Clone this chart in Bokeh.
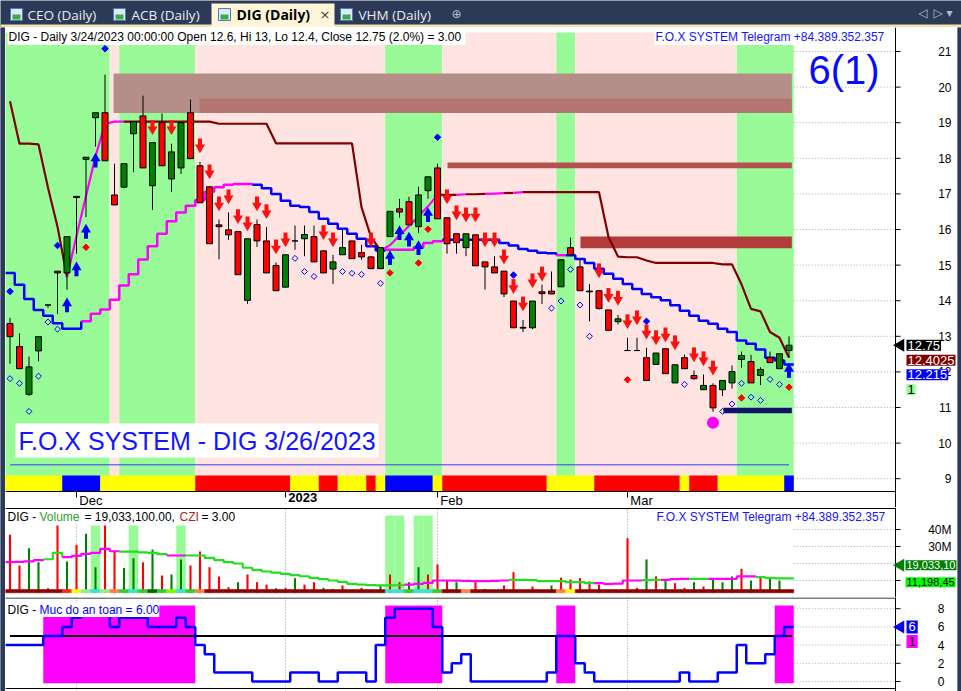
from bokeh.plotting import figure
from bokeh.models import Range1d, FixedTicker, Label, Grid
from bokeh.layouts import column, row
from bokeh.embed import file_html
from bokeh.resources import INLINE
from bokeh.core.properties import value

FONT = "Liberation Sans"

# ---------------------------------------------------------------- data
month_ticks = [7, 29, 45, 65]
month_labels = ["Dec", "2023", "Feb", "Mar"]
price_ticks = list(range(9, 22))

opens = [13.36, 12.71, 11.37, 12.59, 13.88, 14.83, 14.78, 16.93, 17.97, 19.14,
         19.28, 16.97, 17.19, 18.69, 19.19, 17.23, 19.00, 17.42, 17.73, 19.28,
         17.79, 17.20, 16.13, 15.99, 15.94, 14.01, 16.14, 15.68, 14.99, 14.38,
         15.68, 15.74, 15.80, 15.40, 14.89, 15.29, 15.68, 15.35, 15.23, 14.90,
         15.80, 16.58, 16.78, 16.08, 17.09, 17.73, 16.33, 15.88, 15.49, 15.85,
         15.09, 14.95, 14.83, 13.99, 13.25, 13.24, 14.25, 14.27, 14.39, 15.49,
         14.95, 14.27, 14.28, 13.74, 13.41, 12.60, 12.60, 12.40, 12.21, 12.65,
         11.69, 12.40, 11.90, 11.50, 11.62, 11.50, 11.69, 12.35, 12.29, 11.90,
         12.40, 12.09, 12.60]
highs = [13.52, 13.08, 12.43, 12.99, 13.88, 14.83, 15.80, 16.93, 18.03, 19.28,
         20.35, 17.85, 17.85, 19.03, 19.76, 18.44, 19.26, 18.41, 19.00, 19.65,
         17.90, 17.20, 16.28, 16.48, 15.94, 15.74, 16.28, 16.07, 15.07, 15.29,
         16.11, 16.11, 16.11, 15.40, 15.29, 15.99, 15.68, 15.57, 15.25, 15.49,
         16.51, 16.86, 16.92, 17.20, 17.48, 17.85, 16.33, 15.88, 15.88, 15.85,
         15.09, 15.25, 14.83, 13.99, 13.46, 13.99, 14.45, 14.82, 15.15, 15.77,
         15.15, 14.47, 14.28, 13.74, 13.60, 12.96, 12.96, 12.68, 12.53, 12.65,
         12.20, 12.49, 12.04, 11.93, 11.68, 11.76, 12.18, 12.57, 12.48, 12.13,
         12.57, 12.51, 13.00]
lows = [12.23, 12.09, 11.32, 12.30, 13.80, 13.63, 14.31, 15.32, 16.35, 18.33,
        17.93, 16.69, 17.16, 17.61, 17.73, 16.55, 17.79, 17.05, 17.56, 17.99,
        16.75, 15.60, 15.16, 15.71, 14.73, 13.91, 15.51, 14.78, 14.28, 14.38,
        15.43, 15.25, 15.09, 14.78, 14.47, 15.29, 15.18, 15.15, 14.90, 14.90,
        15.80, 16.33, 16.13, 15.91, 16.86, 16.30, 15.32, 15.32, 15.25, 14.98,
        14.31, 14.78, 14.10, 13.24, 13.12, 13.20, 13.91, 14.19, 14.39, 15.29,
        14.28, 13.42, 13.75, 13.17, 13.33, 12.60, 12.60, 11.76, 12.21, 11.95,
        11.69, 12.09, 11.78, 11.50, 10.88, 11.32, 11.53, 12.12, 11.69, 11.63,
        12.26, 12.09, 12.40]
closes = [12.99, 12.09, 12.14, 12.99, 13.88, 14.78, 15.80, 16.90, 18.03, 19.28,
          17.93, 16.69, 17.85, 19.03, 17.73, 18.44, 17.79, 18.18, 19.00, 17.99,
          16.75, 15.60, 16.08, 15.85, 14.73, 15.74, 15.68, 14.78, 14.28, 15.29,
          15.68, 15.86, 15.09, 14.78, 15.09, 15.49, 15.18, 15.23, 14.90, 15.49,
          16.51, 16.49, 16.13, 16.97, 17.48, 16.30, 15.60, 15.63, 15.88, 14.98,
          14.95, 14.78, 14.19, 13.24, 13.23, 13.99, 14.20, 14.19, 15.15, 15.29,
          14.28, 14.25, 13.78, 13.17, 13.49, 12.60, 12.60, 11.76, 12.53, 11.95,
          12.20, 12.09, 11.81, 11.62, 10.99, 11.76, 12.01, 12.46, 11.69, 12.07,
          12.26, 12.51, 12.75]

# trailing stop line (dark red / magenta), drawn as a polyline
stop_line = [19.60, 18.41, 18.41, 18.39, 17.17, 16.08, 14.66, 15.82, 16.94, 18.05,
             18.97, 19.03, 19.03, 19.03, 19.03, 19.03, 19.03, 19.03, 19.03, 19.03,
             19.03, 19.03, 18.97, 18.97, 18.97, 18.97, 18.97, 18.97, 18.42, 18.42,
             18.42, 18.42, 18.42, 18.42, 18.42, 18.42, 18.42, 16.63, 15.79, 15.41,
             15.56, 15.83, 16.10, 16.37, 16.65, 16.97, 16.97, 16.97, 16.99, 16.99,
             17.00, 17.01, 17.02, 17.03, 17.05, 17.05, 17.05, 17.05, 17.05, 17.05,
             17.05, 17.05, 17.05, 15.79, 15.24, 15.22, 15.22, 15.13, 15.06, 15.06,
             15.06, 15.06, 15.06, 15.06, 15.06, 15.02, 15.02, 14.46, 13.77, 13.70,
             13.12, 12.96, 12.40]
stop_seg_codes = "D" * 6 + "M" * 6 + "D" * 27 + "M" * 6 + "DDMDDMMDM" + "D" * 28

# stepped support line (blue / magenta)
support_line = [14.78, 14.45, 14.05, 13.74, 13.58, 13.37, 13.21, 13.21, 13.42, 13.63,
                13.75, 14.03, 14.43, 14.74, 15.16, 15.53, 15.88, 16.23, 16.48, 16.67,
                16.83, 17.06, 17.19, 17.26, 17.28, 17.28, 17.26, 17.16, 17.00, 16.81,
                16.67, 16.63, 16.49, 16.30, 16.16, 16.02, 15.88, 15.74, 15.53, 15.41,
                15.43, 15.43, 15.43, 15.50, 15.62, 15.67, 15.71, 15.71, 15.71, 15.71,
                15.71, 15.71, 15.62, 15.55, 15.45, 15.40, 15.35, 15.33, 15.28, 15.28,
                15.17, 15.06, 14.90, 14.76, 14.62, 14.47, 14.33, 14.19, 14.10, 14.01,
                13.87, 13.72, 13.58, 13.44, 13.35, 13.21, 13.12, 12.88, 12.79, 12.63,
                12.40, 12.32, 12.21]
support_codes = "B" * 8 + "M" * 18 + "B" * 14 + "M" * 6 + "B" * 12 + "M" + "B" * 24

band_codes = "G" * 11 + "P" + "G" * 8 + "P" * 20 + "G" * 6 + "P" * 12 + "G" * 2 + "P" * 17 + "G" * 6
trend_codes = ("Y" * 6 + "B" * 4 + "Y" * 10 + "R" * 10 + "Y" * 3 + "R" * 2 + "Y" * 3 + "R" + "Y"
               + "B" * 5 + "Y" + "R" * 11 + "Y" * 5 + "R" * 9 + "Y" + "R" * 3 + "Y" * 7 + "B")
base_line_level = 9.39

# resistance / support zones
zone_start = [10.9, 19.95, 46.05, 60.05, 75.1]
zone_end = 82.3
zone_top = [20.38, 19.68, 17.88, 15.80, 10.99]
zone_bottom = [19.27, 19.27, 17.72, 15.47, 10.84]
zone_colors = ["#B58E8A", "#B47470", "#B3514E", "#B23B3B", "#12126A"]

sell_bars = [15, 17, 20, 21, 22, 23, 24, 25, 26, 27, 28, 29, 33, 34, 38, 46, 47, 48, 49, 50,
             51, 52, 53, 54, 55, 56, 62, 63, 64, 65, 66, 67, 68, 69, 70, 72, 73, 74]
sell_levels = [18.87, 18.87, 18.36, 17.63, 16.73, 16.93, 16.37, 16.17, 16.73, 16.51,
               15.52, 15.72, 15.92, 15.72, 15.72, 16.93, 16.48, 16.42, 16.42, 15.72,
               15.72, 15.24, 14.41, 13.92, 14.57, 14.76, 14.85, 14.16, 14.08, 13.42,
               13.53, 13.13, 12.97, 13.05, 12.83, 12.49, 12.38, 12.12]
buy_bars = [6, 7, 8, 9, 40, 41, 42, 43, 44, 82]
buy_levels = [13.87, 14.88, 15.94, 17.94, 15.20, 15.90, 15.72, 15.48, 16.41, 12.03]
red_dot_bars = [8, 40, 43, 44, 65, 77, 82]
red_dot_levels = [15.50, 14.78, 15.06, 16.01, 11.78, 11.27, 11.57]
blue_dot_bars = [0, 5, 10, 45, 53, 67]
blue_dot_levels = [14.26, 15.55, 21.08, 18.59, 14.72, 13.42]
hollow_bars = [0, 1, 2, 3, 4, 5, 30, 31, 32, 35, 36, 37, 39, 57, 58, 59, 60, 61,
               71, 75, 76, 77, 78, 79, 80, 81]
hollow_levels = [11.81, 11.68, 10.89, 11.88, 13.40, 13.20, 15.19, 14.82, 14.68, 14.82,
                 14.77, 14.74, 14.49, 13.79, 13.99, 14.88, 13.88, 13.00, 11.65, 10.89,
                 11.10, 11.68, 11.29, 11.20, 11.79, 11.65]
pink_dot_bar = [74]
pink_dot_level = [10.57]

# right-hand value tags (price pane)
price_tag_text = ["12.75", "12.4025", "12.215", "1"]
price_tag_y = [12.75, 12.33, 11.92, 11.50]
price_tag_bg = ["#000000", "#800000", "#0000FF", "#98FB98"]
price_tag_fg = ["white", "white", "white", "black"]

# volume pane (millions)
volume_m = [36.9, 18.8, 29.0, 20.8, 5.5, 42.4, 21.2, 31.0, 37.5, 17.8,
            42.4, 27.3, 17.3, 23.1, 20.8, 28.2, 12.9, 13.5, 22.4, 18.8,
            27.1, 17.8, 12.4, 6.1, 9.0, 13.5, 9.0, 7.6, 5.5, 5.7,
            11.4, 7.6, 9.0, 5.7, 5.1, 7.1, 4.3, 5.7, 4.3, 7.1,
            13.5, 9.0, 9.0, 17.8, 13.5, 19.4, 10.4, 9.0, 4.3, 9.0,
            5.1, 4.5, 7.1, 14.9, 4.3, 6.5, 4.3, 7.1, 11.6, 10.6,
            11.4, 9.4, 7.6, 4.3, 4.0, 34.9, 5.7, 22.4, 12.4, 10.6,
            8.4, 5.7, 9.0, 6.5, 11.0, 9.0, 12.4, 16.9, 10.0, 12.4,
            11.0, 10.0, 19.03]
volume_up = "RRGGRRGRGGRRGGRGRGGRRRRRGRRRGRGRRGGRRRGGRRGGRRRGRRRRRRGRRGRRRRRGRRRGRGRRGRGGGRGRGG"
volume_ma_m = [20.8, 21.0, 21.3, 22.0, 22.5, 26.3, 23.7, 24.5, 25.7, 26.3,
               28.6, 27.2, 27.0, 27.0, 26.5, 26.3, 25.5, 24.7, 24.7, 24.7,
               24.7, 23.3, 22.0, 20.8, 20.0, 17.5, 16.3, 15.3, 14.6, 13.9,
               13.2, 12.5, 11.6, 10.8, 10.0, 9.2, 8.0, 7.6, 7.3, 7.1,
               7.1, 7.2, 7.6, 8.0, 8.6, 10.0, 10.0, 9.9, 9.8, 9.6,
               9.6, 9.8, 10.0, 10.4, 10.4, 10.2, 9.6, 9.6, 9.6, 9.0,
               9.0, 8.4, 8.4, 8.0, 8.2, 10.0, 10.0, 10.2, 10.4, 10.4,
               10.8, 11.0, 11.0, 11.0, 11.0, 11.0, 11.0, 12.4, 12.4, 12.0,
               11.6, 11.2, 11.2]
volume_ma_codes = ("M" * 4 + "G" * 2 + "M" * 6 + "G" * 5 + "M" * 2 + "G" * 23 + "M" * 11
                   + "G" * 9 + "M" * 5 + "G" * 2 + "M" * 3 + "G" * 2 + "M" * 5 + "G" * 4)
volume_ticks_m = [10, 20, 30, 40]
volume_tick_labels = ["", "", "30M", "40M"]
volume_highlight_bars = [9, 13, 18, 40, 41, 43, 44]
volume_highlight_top_m = [42.4, 42.4, 42.4, 48.2, 48.2, 48.2, 48.2]
ribbon_special = {6: "#FF2020", 7: "#FFFF00", 8: "#90EE90", 9: "#40E0D0", 10: "#90EE90",
                  11: "#FF8040", 12: "#32CD32", 13: "#40E0D0", 14: "#32CD32", 15: "#006400",
                  16: "#32CD32", 17: "#7CFC00", 18: "#40E0D0", 19: "#32CD32", 20: "#FF8040",
                  40: "#40E0D0", 41: "#40E0D0", 42: "#32CD32", 43: "#40E0D0", 44: "#40E0D0",
                  45: "#32CD32", 48: "#FF8040", 58: "#FF8040", 59: "#FFFF00"}
volume_tag_text = ["19,033,10", "11,198,45"]
volume_tag_m = [19.03, 9.0]
volume_tag_bg = ["#008000", "#00FF00"]
volume_tag_fg = ["white", "black"]

# safety level pane
safety = [4, 4, 4, 4, 5, 5, 6, 7, 7.25, 7.25,
          7.25, 6, 7, 7, 7, 6, 6, 6, 7, 6,
          4, 3, 1, 1, 1, 1, 0, 0, 0, 0,
          1, 1, 1, 0, 0, 1, 1, 1, 0, 4,
          7, 8, 8, 8, 8, 6, 1, 2, 3, 0,
          0, 0, 0, 0, 0, 0, 0, 1, 5, 5,
          2, 1, 0, 0, 0, 0, 0, 0, 0, 0,
          0, 1, 0, 0, 0, 1, 1, 4, 2, 2,
          3, 5, 6]
safety_alert_bars = list(range(4, 20)) + list(range(40, 46)) + [58, 59, 81, 82]
safety_threshold = 5
safety_ticks = [0, 2, 4, 6, 8]
safety_tag_text = ["6", "1"]
safety_tag_y = [6.0, 4.4]
safety_tag_bg = ["#0000FF", "#FF00FF"]
safety_tag_fg = ["white", "black"]

N = len(closes)
bars = list(range(N))


def runs(codes):
    res, s = [], 0
    for i in range(1, len(codes) + 1):
        if i == len(codes) or codes[i] != codes[s]:
            res.append((s, i - 1, codes[s]))
            s = i
    return res


# reference-pixel -> data helpers (layout of frames, texts, axis furniture)
def PX(px): return (px - 9.5) / 9.5
def PY(py): return 21 - (py - 51) / 35.6
def VY(py): return (597 - py) / 1.7
def SY(py): return (681 - py) / 9.1


X_RANGE = Range1d(PX(5), PX(957))
AXIS_X = PX(895)
TICK_X = PX(900)
DATA_END = 82.5
NAVY = "#2C3A57"
PPU = 35.6


def pane(h, y0, y1):
    f = figure(frame_width=952, frame_height=h, x_range=X_RANGE, y_range=Range1d(y0, y1),
               x_axis_location=None, y_axis_location=None, output_backend="svg",
               toolbar_location=None, min_border_left=0, min_border_right=0,
               min_border_top=0, min_border_bottom=0)
    f.outline_line_color = None
    f.background_fill_color = "white"
    f.border_fill_color = "white"
    f.grid.grid_line_color = None
    return f


def y_axis(f, ticks, labels, y0, y1, label_right):
    f.segment(x0=[DATA_END] * len(ticks), x1=[AXIS_X] * len(ticks), y0=ticks, y1=ticks,
              line_color="#A8A8A8", line_dash="1 2", line_width=1)
    f.segment(x0=[AXIS_X], x1=[AXIS_X], y0=[y0], y1=[y1], line_color="black", line_width=1)
    f.segment(x0=[AXIS_X] * len(ticks), x1=[TICK_X] * len(ticks), y0=ticks, y1=ticks,
              line_color="black", line_width=1)
    shown = [(t, s) for t, s in zip(ticks, labels) if s]
    f.text(x=[label_right] * len(shown), y=[t for t, s in shown], text=[s for t, s in shown],
           text_font=value(FONT), text_font_size="12px", text_color="black",
           text_align="right", text_baseline="middle")


def label(fig, x, y, text, color="black", size="12px", bg=None, align="left", baseline="top",
          style="normal", pad=0):
    kw = dict(x=x, y=y, text=text, text_color=color, text_font=FONT, text_font_size=size,
              text_align=align, text_baseline=baseline, text_font_style=style, padding=pad)
    if bg is not None:
        kw["background_fill_color"] = bg
        kw["background_fill_alpha"] = 1.0
    fig.add_layout(Label(**kw))


def tags(fig, texts, ys, bgs, fgs, size, pad, x_px=906):
    fig.scatter([PX(900)], [ys[0]], marker="triangle", angle=1.5708, size=13,
                fill_color=bgs[0], line_color=None)
    for t, y, bg, fg in zip(texts, ys, bgs, fgs):
        label(fig, PX(x_px), y, t, color=fg, bg=bg, baseline="middle", size=size, pad=pad)


def strip(w, h):
    f = figure(frame_width=w, frame_height=h, x_range=Range1d(0, 1), y_range=Range1d(0, 1),
               x_axis_location=None, y_axis_location=None, output_backend="svg",
               toolbar_location=None, min_border_left=0, min_border_right=0,
               min_border_top=0, min_border_bottom=0)
    f.outline_line_color = None
    f.background_fill_color = NAVY
    f.border_fill_color = NAVY
    f.grid.grid_line_color = None
    f.quad(left=[0], right=[1], bottom=[0], top=[1], fill_color=NAVY, line_color=None)
    return f


# ---------------------------------------------------------------- tab bar
tab = figure(frame_width=961, frame_height=27, x_range=Range1d(0, 961), y_range=Range1d(27, 0),
             x_axis_location=None, y_axis_location=None, output_backend="svg",
             toolbar_location=None, min_border_left=0, min_border_right=0,
             min_border_top=0, min_border_bottom=0)
tab.outline_line_color = None
tab.background_fill_color = NAVY
tab.border_fill_color = NAVY
tab.grid.grid_line_color = None
tab_names = ["CEO (Daily)", "ACB (Daily)", "DIG (Daily)", "VHM (Daily)"]
tab_text_x = [27, 131, 236, 358]
tab_icon_x = [10, 113, 218, 340]
tab.quad(left=[0], right=[961], top=[24], bottom=[27], fill_color="#F2E3AE", line_color=None)
tab.quad(left=[211], right=[334], top=[3], bottom=[27], fill_color="#FFF6DA", line_color=None)
tab.quad(left=tab_icon_x, right=[v + 12 for v in tab_icon_x], top=[8] * 4, bottom=[20] * 4,
         fill_color="#DDEBF8", line_color="#4C7DB8")
tab.quad(left=[v + 2 for v in tab_icon_x], right=[v + 10 for v in tab_icon_x], top=[14] * 4,
         bottom=[19] * 4, fill_color="#3DAA4A", line_color=None)
inactive = [0, 1, 3]
tab.text(x=[tab_text_x[i] for i in inactive], y=[14] * 3, text=[tab_names[i] for i in inactive],
         text_font=value("Open Sans"), text_font_size="13.5px", text_color="#E8ECF2",
         text_baseline="middle")
tab.text(x=[tab_text_x[2]], y=[14], text=[tab_names[2]], text_font=value("Open Sans"),
         text_font_size="14px", text_font_style="bold", text_color="black", text_baseline="middle")
tab.text(x=[319], y=[13.5], text=["×"], text_font=value("DejaVu Sans"), text_font_size="13px",
         text_color="#444444", text_baseline="middle")
tab.text(x=[451, 918, 933, 946], y=[13, 12, 12, 12], text=["⊕", "◁", "▷", "▾"],
         text_font=value("DejaVu Sans"), text_font_size="12px", text_color="#B4BDCB",
         text_baseline="middle")

# ---------------------------------------------------------------- price pane
price = pane(480, PY(507), PY(27))
P_TOP, P_BOT = PY(32), PY(491)

band_fill = {"G": "#98FB98", "P": "#FFE4E1"}
br = runs(band_codes)
y_axis(price, price_ticks, [str(t) for t in price_ticks], PY(507), PY(27), PX(951))
price.quad(left=[a - 0.5 for a, b, c in br], right=[b + 0.5 for a, b, c in br],
           bottom=P_BOT, top=P_TOP, fill_color=[band_fill[c] for a, b, c in br], line_color=None)

for i in range(len(zone_start)):
    price.quad(left=[zone_start[i]], right=[zone_end], top=[zone_top[i]], bottom=[zone_bottom[i]],
               fill_color=zone_colors[i], line_color=None)

trend_fill = {"Y": "#FFFF00", "B": "#0000FF", "R": "#FF0000"}
tr = runs(trend_codes)
price.quad(left=[a - 0.5 for a, b, c in tr], right=[b + 0.5 for a, b, c in tr],
           bottom=P_BOT, top=PY(475), fill_color=[trend_fill[c] for a, b, c in tr], line_color=None)
price.line([bars[0], bars[-1]], [base_line_level, base_line_level], line_color="#3A3AFF", line_width=1)

# frame bottom line, month ticks and labels
price.segment(x0=[PX(5)], x1=[AXIS_X], y0=[P_BOT], y1=[P_BOT], line_color="black", line_width=1)
price.segment(x0=month_ticks, x1=month_ticks, y0=[P_BOT] * 4, y1=[PY(497)] * 4,
              line_color="black", line_width=1)
for t, s in zip(month_ticks, month_labels):
    price.text(x=[t + 0.3], y=[PY(492.5)], text=[s], text_font=value(FONT),
               text_font_size="13px", text_font_style="bold" if s == "2023" else "normal",
               text_color="black", text_baseline="top")

# support (stepped) line
sup_col = {"B": "#0000FF", "M": "#FF00FF"}
for a, b, c in runs(support_codes):
    xs = [i - 0.5 for i in range(a, b + 1)] + [b + 0.5]
    ys = support_line[a:b + 1] + [support_line[b + 1] if b + 1 < N else support_line[b]]
    price.step(xs, ys, mode="after", line_color=sup_col[c], line_width=2.5)

# trailing stop line
stop_col = {"D": "#800000", "M": "#FF00FF"}
for a, b, c in runs(stop_seg_codes):
    price.line(bars[a:b + 2], stop_line[a:b + 2], line_color=stop_col[c], line_width=2.2)

# candles
price.segment(x0=bars, y0=lows, x1=bars, y1=highs, line_color="black", line_width=1)
price.vbar(x=bars, width=0.63, top=[max(o, c) for o, c in zip(opens, closes)],
           bottom=[min(o, c) for o, c in zip(opens, closes)],
           fill_color=["#008000" if c > o else "#FF0000" for o, c in zip(opens, closes)],
           line_color="black", line_width=1)

# signals
price.segment(x0=sell_bars, x1=sell_bars, y0=[v + 7 / PPU for v in sell_levels],
              y1=[v - 1 / PPU for v in sell_levels], line_color="#FF1010", line_width=4,
              line_cap="butt")
price.scatter(sell_bars, [v - 2 / PPU for v in sell_levels], marker="inverted_triangle", size=10,
              fill_color="#FF1010", line_color=None)
price.segment(x0=buy_bars, x1=buy_bars, y0=[v - 7 / PPU for v in buy_levels],
              y1=[v + 1 / PPU for v in buy_levels], line_color="#0000FF", line_width=4,
              line_cap="butt")
price.scatter(buy_bars, [v + 2 / PPU for v in buy_levels], marker="triangle", size=10,
              fill_color="#0000FF", line_color=None)
price.scatter(red_dot_bars, red_dot_levels, marker="square", angle=0.785, size=4.6,
              fill_color="#FF0000", line_color="#FF0000")
price.scatter(blue_dot_bars, blue_dot_levels, marker="square", angle=0.785, size=4.6,
              fill_color="#0000FF", line_color="#0000FF")
price.scatter(hollow_bars, hollow_levels, marker="square", angle=0.785, size=4.2,
              fill_color=None, line_color="#0000FF", line_width=1)
price.scatter(pink_dot_bar, pink_dot_level, marker="circle", size=12, fill_color="#FF00FF",
              line_color=None)

# texts
label(price, PX(7), PY(28.5), "DIG - Daily 3/24/2023 00:00:00 Open 12.6, Hi 13, Lo 12.4, "
      "Close 12.75 (2.0%)  = 3.00", bg="white", pad=1)
label(price, PX(885), PY(28.5), "F.O.X SYSTEM Telegram +84.389.352.357", color="#1414FF",
      bg="white", align="right", pad=1)
label(price, PX(808), PY(47), "6(1)", color="#0A0AFF", size="40px")
label(price, PX(15), PY(440), "F.O.X SYSTEM - DIG 3/26/2023", color="#1414FF", size="25px",
      bg="white", baseline="middle", pad=3)
tags(price, price_tag_text, price_tag_y, price_tag_bg, price_tag_fg, "13px", 1)

# ---------------------------------------------------------------- volume pane
vol = pane(90, VY(597), VY(507))
vol.add_layout(Grid(dimension=0, ticker=FixedTicker(ticks=month_ticks), grid_line_color="#999999",
                    grid_line_dash="1 2"))
y_axis(vol, volume_ticks_m, volume_tick_labels, VY(597), VY(507), PX(951))
vol.segment(x0=[PX(5)], x1=[AXIS_X], y0=[VY(508)], y1=[VY(508)], line_color="black", line_width=1)
vol.quad(left=[b - 0.5 for b in volume_highlight_bars], right=[b + 0.5 for b in volume_highlight_bars],
         bottom=VY(591), top=volume_highlight_top_m, fill_color="#98FB98", line_color=None)
vol.vbar(x=bars, width=0.22, top=volume_m, bottom=0,
         fill_color=["#008000" if u == "G" else "#FF0000" for u in volume_up], line_color=None)
vol.quad(left=[-0.5], right=[82.5], bottom=[0], top=[VY(592.3)], fill_color="white", line_color=None)
ribbon = [ribbon_special.get(i, "#8B0000") for i in bars]
vol.quad(left=[i - 0.5 for i in bars], right=[i + 0.5 for i in bars], bottom=VY(592.3),
         top=VY(589), fill_color=ribbon, line_color=ribbon, line_width=0.5)
ma_col = {"M": "#FF00FF", "G": "#22DD22"}
for a, b, c in runs(volume_ma_codes):
    xs = [i - 0.5 for i in range(a, b + 1)] + [b + 0.5]
    ys = volume_ma_m[a:b + 1] + [volume_ma_m[b + 1] if b + 1 < N else volume_ma_m[b]]
    vol.step(xs, ys, mode="after", line_color=ma_col[c], line_width=2.2)
label(vol, PX(7), VY(509.5), "DIG - ", bg="white")
label(vol, PX(39), VY(509.5), "Volume", color="#2E9E2E", bg="white")
label(vol, PX(84), VY(509.5), "= 19,033,100.00,", bg="white")
label(vol, PX(179), VY(509.5), "CZI", color="#A52A2A", bg="white")
label(vol, PX(201), VY(509.5), "= 3.00", bg="white")
label(vol, PX(885), VY(509.5), "F.O.X SYSTEM Telegram +84.389.352.357", color="#1414FF",
      align="right")
tags(vol, volume_tag_text, volume_tag_m, volume_tag_bg, volume_tag_fg, "11px", 1, x_px=905)

# ---------------------------------------------------------------- safety pane
saf = pane(94, SY(691), SY(597))
saf.add_layout(Grid(dimension=0, ticker=FixedTicker(ticks=month_ticks), grid_line_color="#999999",
                    grid_line_dash="1 2"))
y_axis(saf, safety_ticks, [str(t) for t in safety_ticks], SY(691), SY(597), PX(944))
saf.segment(x0=[PX(5), PX(5)], x1=[AXIS_X, AXIS_X], y0=[SY(597.5), SY(688)],
            y1=[SY(597.5), SY(688)], line_color="black", line_width=1)
alert_codes = "".join("A" if i in safety_alert_bars else "-" for i in bars)
ar = [r for r in runs(alert_codes) if r[2] == "A"]
saf.quad(left=[a - 0.5 for a, b, c in ar], right=[b + 0.5 for a, b, c in ar],
         bottom=SY(682.7), top=SY(605), fill_color="#FF00FF", line_color=None)
saf.line([bars[0], 82.3], [safety_threshold, safety_threshold], line_color="black", line_width=2)
saf.step([i - 0.5 for i in bars] + [82.5], safety + [safety[-1]], mode="after",
         line_color="#0000FF", line_width=2.5)
label(saf, PX(7), SY(602.5), "DIG - ", bg="white")
label(saf, PX(39), SY(602.5), "Muc do an toan = 6.00", color="#0000FF", bg="white")
tags(saf, safety_tag_text, safety_tag_y, safety_tag_bg, safety_tag_fg, "13px", 2)

panes = column(price, vol, saf)
layout = column(tab, row(strip(5, 664), panes, strip(4, 664)))
open("out.html", "w").write(file_html(layout, INLINE))
